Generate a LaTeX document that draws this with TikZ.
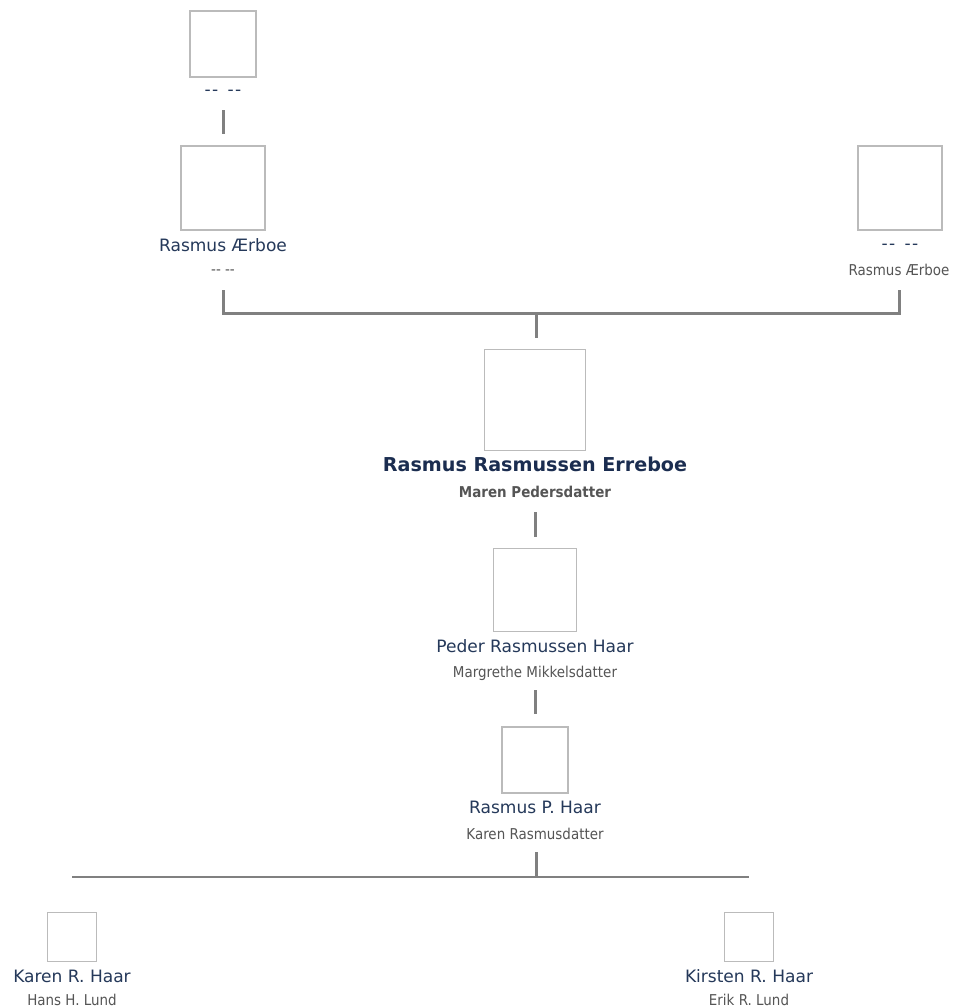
\documentclass[tikz,border=0pt]{standalone}
\usepackage{fontspec}
\setmainfont{DejaVu Sans}
\newfontfamily\subfont[FakeStretch=0.9]{DejaVu Sans}
\usepackage{xcolor}
\definecolor{namecol}{HTML}{25395A}
\definecolor{maincol}{HTML}{1B2D50}
\definecolor{subcol}{HTML}{555555}
\definecolor{linecol}{HTML}{808080}
\definecolor{boxcol}{HTML}{BBBBBB}
\newcommand{\nodata}{-\kern0.08em-\hspace{0.55em}-\kern0.08em-}
\tikzset{
    photo/.style={draw=boxcol, line width=0.35mm, fill=white, inner sep=0pt, minimum size=#1},
    personname/.style={anchor=base, inner sep=0pt, text depth=0pt, text=namecol, font=\fontsize{9.7}{11}\selectfont},
    mainname/.style={anchor=base, inner sep=0pt, text depth=0pt, text=maincol, font=\fontsize{10.9}{12}\selectfont\bfseries},
    spouse/.style={anchor=base, inner sep=0pt, text depth=0pt, text=subcol, font=\subfont\fontsize{8.5}{10}\selectfont},
    mainspouse/.style={anchor=base, inner sep=0pt, text depth=0pt, text=subcol, font=\subfont\fontsize{8.5}{10}\selectfont\bfseries},
    link/.style={draw=linecol, line width=0.6mm},
    sibling/.style={draw=linecol, line width=0.4mm}
}

\begin{document}
\begin{tikzpicture}[x=0.2mm, y=-0.2mm]
                \fill[white] (0,0) rectangle (954,1008);

                % grandparents
                \node[photo=13.2mm] (top) at (223,44) {};
                \node[personname] (topName) at (223,95) {\nodata};

                \node[photo=16.8mm] (ae) at (223,188) {};
                \node[personname] (aeName) at (223,251) {Rasmus Ærboe};
                \node[spouse] (aeSub) at (223,274) {-{}- -{}-};

                \node[photo=16.8mm] (right) at (900,188) {};
                \node[personname] (rightName) at (900,249) {\nodata};
                \node[spouse] (rightSub) at (899,275) {Rasmus Ærboe};

                % main person
                \node[photo=20.2mm] (main) at (535,400) {};
                \node[mainname] (mainName) at (535,471) {Rasmus Rasmussen Erreboe};
                \node[mainspouse] (mainSub) at (535,497) {Maren Pedersdatter};

                \node[photo=16.6mm] (peder) at (535,590) {};
                \node[personname] (pederName) at (535,652) {Peder Rasmussen Haar};
                \node[spouse] (pederSub) at (535,677) {Margrethe Mikkelsdatter};

                \node[photo=13.2mm] (rasmusP) at (535,760) {};
                \node[personname] (rasmusPName) at (535,813) {Rasmus P. Haar};
                \node[spouse] (rasmusPSub) at (535,839) {Karen Rasmusdatter};

                % children
                \node[photo=9.8mm] (karen) at (72,937) {};
                \node[personname] (karenName) at (72,982) {Karen R. Haar};
                \node[spouse] (karenSub) at (72,1005) {Hans H. Lund};

                \node[photo=9.8mm] (kirsten) at (749,937) {};
                \node[personname] (kirstenName) at (749,982) {Kirsten R. Haar};
                \node[spouse] (kirstenSub) at (749,1005) {Erik R. Lund};

                \coordinate (parents) at (536,313);
                \coordinate (kids) at (536,877);

                % lines
                \draw[link, shorten <=3mm, shorten >=2.2mm] (topName.south) -- (ae.north);
                \draw[link, shorten <=3.2mm, shorten >=3mm] (aeSub.south) -- (aeSub.south |- parents) -- (rightSub.south |- parents) -- (rightSub.south);
                \draw[link, shorten >=2.2mm] (parents) -- (main.north -| parents);
                \draw[link, shorten <=3mm, shorten >=2.2mm] (mainSub.south) -- (peder.north);
                \draw[link, shorten <=2.6mm, shorten >=2.4mm] (pederSub.south) -- (rasmusP.north);
                \draw[link, shorten <=2.6mm] (rasmusPSub.south -| kids) -- (kids);
                \draw[sibling] (karen |- kids) -- (kirsten |- kids);

            \end{tikzpicture}
\end{document}
